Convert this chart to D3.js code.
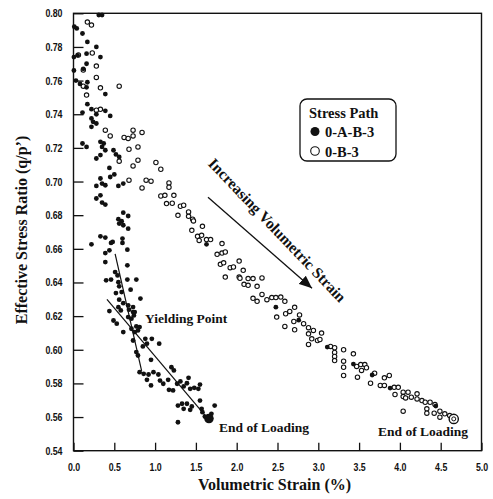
<!DOCTYPE html>
<html>
<head>
<meta charset="utf-8">
<script src="https://cdn.jsdelivr.net/npm/d3@7"></script>
<style>
    html, body { margin: 0; padding: 0; background: #fff; }
    svg { display: block; }
    .tick text { font-family: "Liberation Sans", Arial, sans-serif; font-size: 11px; font-weight: bold; fill: #111; }
    .serif { font-family: "Liberation Serif", "Times New Roman", serif; font-weight: bold; fill: #111; }
</style>
</head>
<body>
<svg id="chart" width="493" height="499"></svg>
<script>
(function () {
    'use strict';

    // Stress path 0-A-B-3 (filled)
    var filledPts = [
        [0.01, 0.792], [0.04, 0.791], [0.11, 0.788], [0.17, 0.783], [0.28, 0.780], [0.31, 0.799], [0.35, 0.799],
        [0.005, 0.774], [0.05, 0.775], [0.16, 0.776], [0.33, 0.774], [0.16, 0.770], [0.12, 0.767], [0.005, 0.766],
        [0.03, 0.760], [0.08, 0.758], [0.17, 0.759], [0.16, 0.756], [0.39, 0.752], [0.17, 0.746], [0.11, 0.741],
        [0.22, 0.743], [0.28, 0.740], [0.39, 0.742], [0.45, 0.739],
        [0.22, 0.7375], [0.24, 0.7355], [0.22, 0.7325], [0.28, 0.7345], [0.11, 0.7226], [0.16, 0.7206],
        [0.33, 0.7236], [0.37, 0.7226], [0.35, 0.7206], [0.39, 0.7186], [0.33, 0.7157], [0.28, 0.7137],
        [0.49, 0.7186], [0.52, 0.7161], [0.56, 0.7146], [0.44, 0.7081], [0.45, 0.7027], [0.50, 0.7042],
        [0.33, 0.7018], [0.28, 0.6974], [0.35, 0.6988], [0.39, 0.6978], [0.55, 0.6974], [0.61, 0.6988],
        [0.28, 0.6899], [0.33, 0.6918], [0.35, 0.6875], [0.39, 0.6863], [0.61, 0.6815], [0.55, 0.6776],
        [0.59, 0.6764], [0.67, 0.6795],
        [0.56, 0.675], [0.61, 0.674], [0.67, 0.672], [0.22, 0.6627], [0.33, 0.6674], [0.39, 0.6667],
        [0.46, 0.6635], [0.48, 0.6641], [0.60, 0.6661], [0.60, 0.6635], [0.39, 0.6575], [0.44, 0.6591],
        [0.66, 0.6595], [0.39, 0.6521], [0.66, 0.6502], [0.51, 0.6462], [0.54, 0.6442], [0.40, 0.6413],
        [0.46, 0.6417], [0.55, 0.6402], [0.66, 0.6417], [0.77, 0.6417], [0.56, 0.6377], [0.52, 0.6337],
        [0.59, 0.6343], [0.70, 0.6357], [0.56, 0.6298], [0.61, 0.6277], [0.82, 0.6304], [0.55, 0.6253],
        [0.58, 0.6234], [0.68, 0.6238], [0.73, 0.6224], [0.44, 0.6230], [0.67, 0.6194], [0.71, 0.6185],
        [0.74, 0.6204], [0.49, 0.6174], [0.53, 0.6155], [0.77, 0.6139], [0.81, 0.6135],
        [0.67, 0.6264], [0.73, 0.6254], [0.75, 0.6224], [0.61, 0.6105], [0.71, 0.6125], [0.75, 0.6105],
        [0.79, 0.6115], [0.73, 0.6055], [0.88, 0.6065], [0.96, 0.6065], [1.05, 0.6036], [0.90, 0.6036],
        [0.85, 0.6020], [0.77, 0.5986], [0.79, 0.5966], [0.95, 0.5940], [0.81, 0.5867], [0.86, 0.5857],
        [0.92, 0.5853], [0.98, 0.5867], [1.04, 0.5853], [0.90, 0.5821], [0.95, 0.5788], [1.06, 0.5817],
        [1.10, 0.5798], [1.16, 0.5821], [1.20, 0.5896], [1.23, 0.5877], [1.17, 0.5762], [1.22, 0.5758],
        [1.27, 0.5798], [1.31, 0.5812], [1.35, 0.5782], [1.39, 0.5801], [1.43, 0.5768], [1.48, 0.5774],
        [1.53, 0.5768], [1.55, 0.5793], [1.41, 0.5833], [1.28, 0.5668], [1.33, 0.5679], [1.39, 0.5679],
        [1.45, 0.5663], [1.35, 0.5649], [1.43, 0.5643], [1.55, 0.5698], [1.57, 0.5649], [1.73, 0.5668],
        [1.28, 0.5569], [1.58, 0.5629], [1.69, 0.5619], [1.61, 0.5603],
        [1.63, 0.6627], [2.48, 0.6253], [2.76, 0.6176], [3.11, 0.6016], [3.43, 0.5915], [3.66, 0.5850],
        [3.88, 0.5772], [4.44, 0.5665]
    ];

    // Stress path 0-B-3 (open)
    var openPts = [
        [0.17, 0.7948], [0.22, 0.7930], [0.06, 0.7752], [0.23, 0.7764], [0.28, 0.7686], [0.12, 0.7663],
        [0.28, 0.7619], [0.12, 0.7567], [0.33, 0.7557], [0.56, 0.7567], [0.16, 0.7514], [0.33, 0.7429],
        [0.28, 0.7424], [0.39, 0.7305], [0.45, 0.7271], [0.62, 0.7262], [0.67, 0.7256], [0.73, 0.7305],
        [0.73, 0.7271], [0.84, 0.7292], [0.68, 0.7192], [0.79, 0.7206], [0.56, 0.7121], [0.79, 0.7127],
        [0.73, 0.7093], [1.01, 0.7113], [1.07, 0.7073], [0.68, 0.7008], [0.89, 0.7008], [0.95, 0.7002],
        [0.84, 0.6962], [1.17, 0.6992], [1.17, 0.6966], [1.07, 0.6914], [1.12, 0.6918], [1.23, 0.6918],
        [1.14, 0.6869], [1.21, 0.6871], [1.31, 0.6853], [1.35, 0.6859], [1.28, 0.6799], [1.41, 0.6819],
        [1.46, 0.6776], [1.41, 0.6793], [1.47, 0.6766], [1.58, 0.6734], [1.45, 0.6710], [1.52, 0.6674],
        [1.54, 0.6650], [1.57, 0.6680], [1.63, 0.6655], [1.68, 0.6655], [1.82, 0.6631], [1.76, 0.6567],
        [1.82, 0.6575], [1.86, 0.6581], [1.80, 0.6508], [1.84, 0.6517], [2.03, 0.6527], [1.92, 0.6488],
        [1.96, 0.6492], [2.08, 0.6472], [1.86, 0.6432], [2.03, 0.6432], [2.14, 0.6423], [2.20, 0.6423],
        [2.31, 0.6427], [2.04, 0.6425], [2.09, 0.6389], [2.14, 0.6383], [2.25, 0.6377], [2.31, 0.6329],
        [2.20, 0.6306], [2.25, 0.6288], [2.37, 0.6298], [2.43, 0.6310], [2.48, 0.6310], [2.54, 0.6313],
        [2.59, 0.6288], [2.49, 0.6194], [2.60, 0.6214], [2.65, 0.6228], [2.71, 0.6252], [2.77, 0.6207],
        [2.59, 0.6139], [2.70, 0.6168], [2.71, 0.6119], [2.82, 0.6155], [2.88, 0.6131], [2.88, 0.6095],
        [2.94, 0.6115], [2.92, 0.6065], [2.99, 0.6055], [3.04, 0.6099], [2.88, 0.6032], [3.02, 0.6061],
        [3.15, 0.6020], [3.20, 0.6012], [3.20, 0.5984], [3.20, 0.5960], [3.20, 0.5936], [3.31, 0.6000],
        [3.31, 0.5932], [3.31, 0.5896], [3.31, 0.5847], [3.43, 0.5976], [3.47, 0.5901], [3.52, 0.5912],
        [3.57, 0.5912], [3.59, 0.5893], [3.53, 0.5877], [3.48, 0.5837], [3.64, 0.5801], [3.69, 0.5861],
        [3.76, 0.5788], [3.81, 0.5788], [3.81, 0.5833], [3.87, 0.5847], [3.93, 0.5777], [3.98, 0.5777],
        [3.94, 0.5734], [4.04, 0.5748], [4.10, 0.5748], [4.04, 0.5722], [4.14, 0.5718], [4.04, 0.5635],
        [4.07, 0.5714], [4.21, 0.5738], [4.21, 0.5708], [4.27, 0.5698], [4.31, 0.5688], [4.37, 0.5688],
        [4.33, 0.5649], [4.33, 0.5623], [4.43, 0.5674], [4.42, 0.5623], [4.49, 0.5635], [4.49, 0.5599],
        [4.55, 0.5619], [4.61, 0.5609]
    ];

    var endFilled = [1.66, 0.5591];
    var endOpen = [4.66, 0.5589];

    // fitted lines either side of the yielding point
    var lineBefore = [[0.51, 0.657], [0.835, 0.5875]];
    var lineAfter = [[0.41, 0.630], [1.62, 0.5605]];

    var arrowPts = [[1.648, 0.6907], [2.923, 0.6365]];

    var xTicks = d3.range(0, 5.01, 0.5);
    var yTicks = d3.range(0.54, 0.8001, 0.02);

    var svg = d3.select('#chart');

    var x = d3.scaleLinear().domain([0, 5]).range([73.5, 481.5]);
    var y = d3.scaleLinear().domain([0.54, 0.80]).range([450.7, 13.3]);

    var squeeze = 0.8; // tick labels are a narrow face

    var defs = svg.append('defs');
    defs.append('marker')
        .attr('id', 'head')
        .attr('viewBox', '0 0 12 10')
        .attr('refX', 12)
        .attr('refY', 5)
        .attr('markerWidth', 13)
        .attr('markerHeight', 11)
        .attr('markerUnits', 'userSpaceOnUse')
        .attr('orient', 'auto')
        .append('path')
        .attr('d', 'M0,0 L12,5 L0,10 Z')
        .attr('fill', '#111');

    // frame
    svg.append('rect')
        .attr('x', x(0))
        .attr('y', y(0.80))
        .attr('width', x(5) - x(0))
        .attr('height', y(0.54) - y(0.80))
        .attr('fill', 'none')
        .attr('stroke', '#111')
        .attr('stroke-width', 1.4);

    var yAxis = d3.axisLeft(y)
        .tickValues(yTicks)
        .tickFormat(d3.format('.2f'))
        .tickSizeInner(-10)
        .tickSizeOuter(0)
        .tickPadding(11);

    var xAxis = d3.axisBottom(x)
        .tickValues(xTicks)
        .tickFormat(d3.format('.1f'))
        .tickSizeInner(-8)
        .tickSizeOuter(0)
        .tickPadding(12);

    var gy = svg.append('g')
        .attr('transform', 'translate(' + x(0) + ',0)')
        .call(yAxis);
    var gx = svg.append('g')
        .attr('transform', 'translate(0,' + y(0.54) + ')')
        .call(xAxis);

    [gx, gy].forEach(function (g) {
        g.select('.domain').remove();
        g.selectAll('.tick line').attr('stroke', '#111').attr('stroke-width', 1.3);
        g.selectAll('.tick text')
            .attr('font-family', null)
            .attr('font-size', null)
            .attr('transform', 'scale(' + squeeze + ',1)');
    });
    gy.selectAll('.tick text').attr('x', -11 / squeeze);

    // fitted lines
    var line = d3.line()
        .x(function (d) { return x(d[0]); })
        .y(function (d) { return y(d[1]); });

    [lineBefore, lineAfter].forEach(function (pts) {
        svg.append('path')
            .attr('d', line(pts))
            .attr('fill', 'none')
            .attr('stroke', '#111')
            .attr('stroke-width', 1.2);
    });

    svg.append('g').selectAll('circle')
        .data(openPts)
        .enter().append('circle')
        .attr('cx', function (d) { return x(d[0]); })
        .attr('cy', function (d) { return y(d[1]); })
        .attr('r', 2.2)
        .attr('fill', '#fff')
        .attr('stroke', '#111')
        .attr('stroke-width', 1.1);

    svg.append('g').selectAll('circle')
        .data(filledPts)
        .enter().append('circle')
        .attr('cx', function (d) { return x(d[0]); })
        .attr('cy', function (d) { return y(d[1]); })
        .attr('r', 2.4)
        .attr('fill', '#111');

    // end of loading markers
    svg.append('circle')
        .attr('cx', x(endFilled[0]))
        .attr('cy', y(endFilled[1]))
        .attr('r', 4.8)
        .attr('fill', '#111');

    svg.append('circle')
        .attr('cx', x(endOpen[0]))
        .attr('cy', y(endOpen[1]))
        .attr('r', 4.6)
        .attr('fill', '#fff')
        .attr('stroke', '#111')
        .attr('stroke-width', 1.4);
    svg.append('circle')
        .attr('cx', x(endOpen[0]))
        .attr('cy', y(endOpen[1]))
        .attr('r', 2)
        .attr('fill', 'none')
        .attr('stroke', '#111')
        .attr('stroke-width', 1);

    // arrow + rotated label
    svg.append('path')
        .attr('d', line(arrowPts))
        .attr('stroke', '#111')
        .attr('stroke-width', 1.3)
        .attr('marker-end', 'url(#head)');

    svg.append('text')
        .attr('class', 'serif')
        .attr('transform', 'translate(' + x(2.45) + ',' + y(0.6689) + ') rotate(46.4)')
        .attr('text-anchor', 'middle')
        .attr('font-size', 15.5)
        .text('Increasing Volumetric Strain');

    // annotations
    var notes = [
        { t: 'Yielding Point', x: 0.876, y: 0.6157 },
        { t: 'End of Loading', x: 1.783, y: 0.5511 },
        { t: 'End of Loading', x: 3.732, y: 0.549 }
    ];
    svg.append('g').selectAll('text')
        .data(notes)
        .enter().append('text')
        .attr('class', 'serif')
        .attr('x', function (d) { return x(d.x); })
        .attr('y', function (d) { return y(d.y); })
        .attr('font-size', 13.5)
        .text(function (d) { return d.t; });

    // axis titles
    svg.append('text')
        .attr('class', 'serif')
        .attr('x', (x(0) + x(5)) / 2 - 3)
        .attr('y', 490)
        .attr('text-anchor', 'middle')
        .attr('font-size', 16)
        .text('Volumetric Strain (%)');

    svg.append('text')
        .attr('class', 'serif')
        .attr('transform', 'translate(27,230) rotate(-90)')
        .attr('text-anchor', 'middle')
        .attr('font-size', 16)
        .text('Effective Stress Ratio (q/p\u2019)');

    // legend
    var lg = svg.append('g').attr('transform', 'translate(300,99)');
    lg.append('rect')
        .attr('width', 96)
        .attr('height', 62)
        .attr('rx', 7)
        .attr('fill', '#fff')
        .attr('stroke', '#111')
        .attr('stroke-width', 1.3);
    lg.append('text')
        .attr('class', 'serif')
        .attr('x', 9)
        .attr('y', 19)
        .attr('font-size', 14.5)
        .text('Stress Path');
    lg.append('circle').attr('cx', 15).attr('cy', 32.5).attr('r', 4.5).attr('fill', '#111');
    lg.append('text').attr('class', 'serif').attr('x', 25).attr('y', 38).attr('font-size', 14.5).text('0-A-B-3');
    lg.append('circle').attr('cx', 15).attr('cy', 52).attr('r', 4.3)
        .attr('fill', '#fff').attr('stroke', '#111').attr('stroke-width', 1.1);
    lg.append('text').attr('class', 'serif').attr('x', 25).attr('y', 57.5).attr('font-size', 14.5).text('0-B-3');
})();
</script>
</body>
</html>
